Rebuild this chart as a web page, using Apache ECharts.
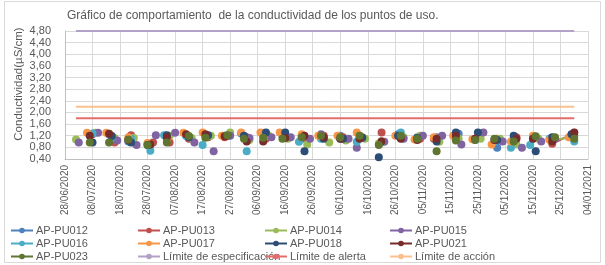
<!DOCTYPE html>
<html><head><meta charset="utf-8">
<script src="https://cdn.jsdelivr.net/npm/echarts@6/dist/echarts.min.js"></script>
<style>html,body{margin:0;padding:0;background:#fff}#c{width:605px;height:265px}</style>
</head><body><div id="c"></div>
<script>
const titleText = 'Gráfico de comportamiento  de la conductividad de los puntos de uso.';
const yAxisTitle = 'Conductividad(µS/cm)';
const yMin = 0.4, yMax = 4.8, yStep = 0.4;
const xStartDate = '28/06/2020', xSpanDays = 190, xStepDays = 10;

const names = ['AP-PU012','AP-PU013','AP-PU014','AP-PU015','AP-PU016','AP-PU017','AP-PU018','AP-PU021','AP-PU023'];
const colors = ['#4F81BD','#C0504D','#9BBB59','#8064A2','#4BACC6','#F79646','#2C4D75','#772C2A','#5F7530'];

const PU012_dates = ['07/07','14/07','21/07','28/07','04/08','11/08','18/08','25/08','31/08','09/09','15/09','22/09','29/09','06/10','13/10','21/10','27/10','03/11','10/11','18/11','24/11','02/12','08/12','15/12','22/12','29/12'];
const PU012_vals  = [1.22,1.25,1.00,0.92,1.10,1.20,1.20,1.20,1.28,1.20,1.20,1.20,1.15,1.20,1.20,1.00,1.25,1.15,1.15,1.27,1.10,0.79,1.10,1.10,1.05,1.15];

const PU013_dates = ['08/07','16/07','22/07','30/07','05/08','12/08','19/08','25/08','02/09','09/09','16/09','23/09','30/09','07/10','14/10','21/10','28/10','04/11','09/11','17/11','25/11','02/12','09/12','16/12','22/12','30/12'];
const PU013_vals  = [1.25,0.97,1.22,0.97,0.97,1.10,1.15,1.15,1.15,1.10,1.15,1.10,1.20,1.15,1.15,1.31,1.20,1.10,1.10,1.15,1.15,1.10,1.15,1.15,0.92,1.30];

const PU014_dates = ['02/07','09/07','16/07','23/07','29/07','05/08','13/08','20/08','27/08','03/09','10/09','17/09','24/09','02/10','08/10','15/10','20/10','29/10','04/11','11/11','18/11','26/11','03/12','09/12','17/12','22/12','29/12'];
const PU014_vals  = [1.07,1.30,1.12,1.12,0.88,1.20,1.12,1.20,1.31,1.05,1.20,1.10,0.90,0.97,1.04,1.10,0.93,1.15,1.20,0.99,1.10,1.10,1.10,0.90,1.10,1.06,1.14];

const PU015_dates = ['03/07','10/07','17/07','24/07','31/07','07/08','14/08','21/08','27/08','03/09','11/09','18/09','25/09','29/09','09/10','12/10','22/10','29/10','05/11','12/11','19/11','27/11','04/12','11/12','18/12','23/12','30/12'];
const PU015_vals  = [0.97,1.30,1.04,0.88,1.22,1.30,0.97,0.67,1.20,1.12,1.15,1.15,1.10,1.25,1.10,0.79,0.99,1.10,1.20,1.20,0.90,1.31,1.00,0.79,1.00,1.10,1.20];

const PU016_dates = ['08/07','15/07','22/07','29/07','03/08','11/08','17/08','25/08','02/09','08/09','15/09','21/09','29/09','06/10','12/10','21/10','28/10','03/11','10/11','17/11','24/11','01/12','07/12','14/12','21/12','30/12'];
const PU016_vals  = [1.28,1.15,1.10,0.68,1.22,1.20,0.88,1.20,0.67,1.20,1.25,0.99,1.10,1.10,0.99,0.97,1.31,1.10,1.10,1.15,1.05,1.00,0.79,0.88,1.10,1.00];

const PU017_dates = ['06/07','13/07','21/07','28/07','04/08','10/08','17/08','24/08','31/08','07/09','14/09','22/09','28/09','05/10','12/10','21/10','26/10','02/11','09/11','16/11','23/11','30/11','07/12','15/12','21/12','28/12'];
const PU017_vals  = [1.30,1.30,1.15,0.95,1.04,1.30,1.31,1.20,1.31,1.31,1.31,1.25,1.20,1.20,1.31,1.00,1.20,1.07,1.15,1.20,1.08,0.90,1.00,1.20,1.05,1.15];

const PU018_dates = ['08/07','15/07','22/07','28/07','04/08','12/08','19/08','26/08','01/09','09/09','16/09','23/09','30/09','07/10','14/10','20/10','27/10','03/11','10/11','17/11','25/11','02/12','08/12','16/12','22/12','29/12'];
const PU018_vals  = [0.97,1.19,0.97,0.88,1.22,1.15,1.22,1.20,1.20,1.31,1.31,0.67,1.10,1.10,1.13,0.46,1.20,1.12,1.00,1.31,1.31,1.05,1.20,0.67,1.15,1.25];

const PU021_dates = ['07/07','14/07','21/07','29/07','04/08','11/08','18/08','25/08','02/09','08/09','16/09','23/09','30/09','06/10','13/10','21/10','28/10','03/11','10/11','17/11','24/11','01/12','09/12','15/12','22/12','30/12'];
const PU021_vals  = [1.20,1.27,1.05,0.90,1.15,1.25,1.25,1.18,1.00,1.00,1.12,1.20,1.15,1.10,1.10,1.00,1.10,1.05,1.10,1.20,1.10,1.05,1.10,1.10,1.00,1.31];

const PU023_dates = ['07/07','14/07','21/07','28/07','04/08','12/08','18/08','26/08','01/09','08/09','15/09','22/09','29/09','06/10','13/10','20/10','28/10','03/11','10/11','17/11','24/11','01/12','08/12','16/12','23/12','30/12'];
const PU023_vals  = [0.97,0.97,1.07,0.88,0.97,1.19,1.13,1.22,1.10,1.13,1.10,1.15,1.20,1.15,1.20,0.88,1.20,1.10,0.67,1.04,1.05,1.10,1.00,1.18,1.15,1.10];

// series whose last two readings are joined by a line (consecutive rows in the source)
const joinedTail = ['AP-PU013','AP-PU014'];

const limitNames  = ['Límite de especificación','Límite de alerta','Límite de acción'];
const limitColors = ['#B3A2C7','#E46C6B','#FAC090'];
const limitDates  = ['02/07','30/12'];
const specLimit   = [4.8, 4.8];
const alertLimit  = [1.8, 1.8];
const actionLimit = [2.2, 2.2];

const allDates = [PU012_dates,PU013_dates,PU014_dates,PU015_dates,PU016_dates,PU017_dates,PU018_dates,PU021_dates,PU023_dates];
const allVals  = [PU012_vals,PU013_vals,PU014_vals,PU015_vals,PU016_vals,PU017_vals,PU018_vals,PU021_vals,PU023_vals];

const base = Date.UTC(2020,5,28);
function toDay(s){ const p=s.split('/').map(Number); const y=p[1]<6?2021:2020; return (Date.UTC(y,p[1]-1,p[0])-base)/86400000; }
function fmtDay(v){ const d=new Date(base+v*86400000); const dd=String(d.getUTCDate()).padStart(2,'0'); const mm=String(d.getUTCMonth()+1).padStart(2,'0'); return dd+'/'+mm+'/'+d.getUTCFullYear(); }

const series = [];
names.forEach((n,k)=>{
  const ds = allDates[k], vs = allVals[k], data=[];
  const tail = joinedTail.indexOf(n) >= 0;
  for (let i=0;i<ds.length;i++){
    const x = toDay(ds[i]);
    data.push([x, vs[i]]);
    if (i < ds.length-1 && !(tail && i === ds.length-2)) data.push([x+0.5,'-']);
  }
  series.push({name:n,type:'line',data:data,connectNulls:false,symbol:'circle',symbolSize:8,showSymbol:true,
    itemStyle:{color:colors[k]},lineStyle:{color:colors[k],width:2},emphasis:{disabled:true},z:3});
});
[specLimit,alertLimit,actionLimit].forEach((arr,k)=>{
  series.push({name:limitNames[k],type:'line',symbol:'none',data:limitDates.map((d,i)=>[toDay(d),arr[i]]),
    itemStyle:{color:limitColors[k]},lineStyle:{color:limitColors[k],width:2},emphasis:{disabled:true},z:2});
});

const legendCols = [
  ['AP-PU012','AP-PU016','AP-PU023'],
  ['AP-PU013','AP-PU017','Límite de especificación'],
  ['AP-PU014','AP-PU018','Límite de alerta'],
  ['AP-PU015','AP-PU021','Límite de acción']
];
const legendLeft = [10,137,264,389];
const font = 'Liberation Sans, Arial, sans-serif';
const legends = legendCols.map((col,i)=>({
  data: col, orient:'vertical', left: legendLeft[i], top: 224, width: 140, height: 45,
  itemWidth: 22, itemHeight: 7, itemGap: 0, padding: 0,
  textStyle:{fontSize:11,color:'#595959',fontFamily:font,lineHeight:13,padding:[0,0,0,-2]}, selectedMode:false
}));

const chart = echarts.init(document.getElementById('c'),null,{renderer:'canvas'});
chart.setOption({
  animation:false,
  textStyle:{fontFamily:font},
  title:{text:titleText,left:62,top:5,textStyle:{fontSize:12,fontWeight:'normal',color:'#595959',fontFamily:font}},
  graphic:[{type:'rect',shape:{x:4.5,y:1.5,width:596,height:261},style:{fill:'none',stroke:'#D9D9D9',lineWidth:1},silent:true}],
  legend: legends,
  grid:{left:65,right:17,top:31,bottom:106},
  xAxis:{type:'value',min:0,max:xSpanDays,interval:xStepDays,
    axisLine:{show:true,onZero:false,lineStyle:{color:'#BFBFBF'}},axisTick:{show:false},
    splitLine:{show:true,lineStyle:{color:'#D9D9D9',width:1}},
    axisLabel:{rotate:90,fontSize:10,color:'#595959',margin:6,formatter:fmtDay,showMinLabel:true,showMaxLabel:true}},
  yAxis:{type:'value',min:yMin,max:yMax,interval:yStep,
    name:yAxisTitle,nameLocation:'middle',nameGap:40,nameMoveOverlap:false,
    nameTextStyle:{fontSize:11.5,color:'#595959',fontFamily:font,padding:[0,0,0,22]},
    axisLine:{show:true,lineStyle:{color:'#BFBFBF'}},axisTick:{show:false},
    splitLine:{show:true,lineStyle:{color:'#D9D9D9',width:1}},
    axisLabel:{fontSize:11,color:'#595959',margin:14,formatter:v=>v.toFixed(2).replace('.',',')}},
  series: series
});
</script></body></html>
